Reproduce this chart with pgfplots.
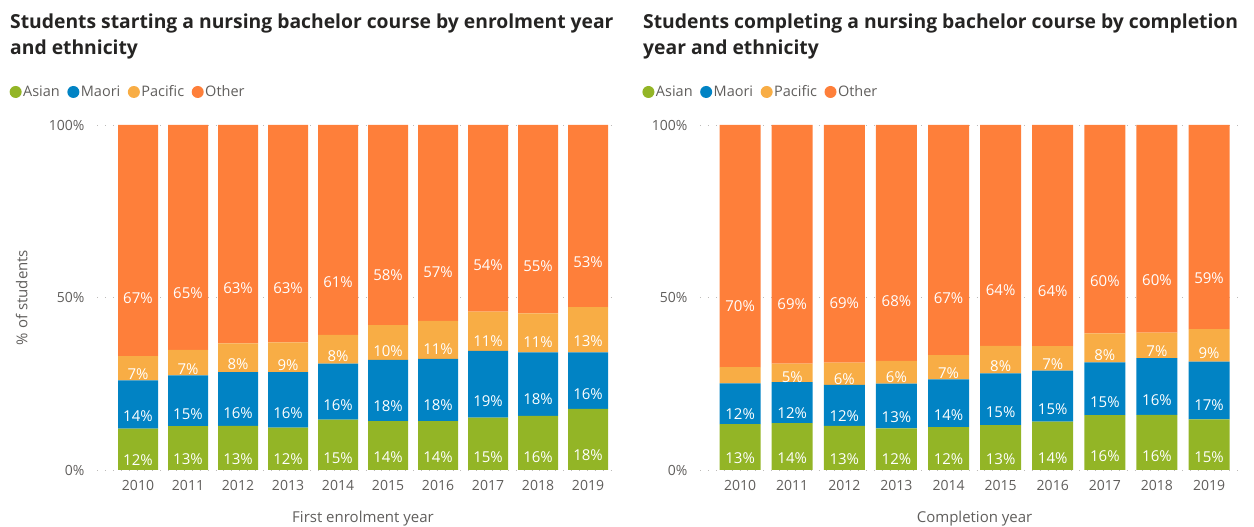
\documentclass[border=0pt]{standalone}
\usepackage{pgfplots}
\pgfplotsset{compat=1.18}
\usepackage{fontspec}
\setmainfont{Open Sans}
\definecolor{cAsian}{HTML}{93B526}
\definecolor{cMaori}{HTML}{0183C4}
\definecolor{cPacific}{HTML}{F8AD45}
\definecolor{cOther}{HTML}{FE7F3A}
\definecolor{titlec}{HTML}{252423}
\definecolor{axc}{HTML}{605E5C}
\definecolor{gridc}{HTML}{BDBBB9}

\pgfplotsset{
  pbchart/.style={
    ybar stacked, scale only axis, height=345pt,
    ymin=0, ymax=100, enlarge y limits=false,
    axis line style={draw=none}, major tick length=0pt, tick style={draw=none},
    ymajorgrids, grid style={gridc, line width=0.9pt, dash pattern=on 0.9pt off 7pt},
    ytick={0,50,100}, yticklabels={0\%,50\%,100\%},
    xtick={0,...,9}, xticklabels={2010,2011,2012,2013,2014,2015,2016,2017,2018,2019},
    ticklabel style={font=\fontsize{14}{14}\selectfont, text=axc},
    yticklabel style={xshift=-9pt},
    xticklabel style={yshift=-7pt},
    label style={font=\fontsize{15}{15}\selectfont, text=axc},
    point meta=explicit,
    /pgf/number format/assume math mode=true,
    nodes near coords={\ifdim\labshift pt<1pt\relax\else\pgfmathprintnumber[fixed,precision=0]{\pgfplotspointmeta}\%\fi},
    every node near coord/.append style={
      /pgfplots/calclab/.code={\pgfkeys{/pgf/fpu=true,/pgf/fpu/output format=fixed}\pgfmathsetmacro\labshift{\pgfplotspointmeta*0.8625}\pgfkeys{/pgf/fpu=false}},
      /pgfplots/calclab, anchor=center, yshift=-\labshift pt,
      font=\fontsize{15}{15}\selectfont, text=white},
    legend columns=4,
    legend style={draw=none, fill=none, font=\fontsize{14.5}{14.5}\selectfont, text=axc,
      inner sep=0pt, anchor=west, nodes={inner sep=1.5pt},
      /tikz/every even column/.append style={column sep=6pt}},
    legend image code/.code={\fill[##1, draw=none] (3pt,0pt) circle (6pt);},
  }
}

\begin{document}
\begin{tikzpicture}
\useasboundingbox (0,0) rectangle (1254pt,527pt);
\node[anchor=base west, align=left, font=\fontsize{19.3}{26}\bfseries\selectfont, text=titlec, inner sep=0pt]
  at (10pt,472pt) {Students starting a nursing bachelor course by enrolment year\\and ethnicity};
\node[anchor=base west, align=left, font=\fontsize{19.3}{26}\bfseries\selectfont, text=titlec, inner sep=0pt]
  at (643pt,472pt) {Students completing a nursing bachelor course by completion\\year and ethnicity};

\begin{axis}[pbchart, at={(97pt,57pt)}, anchor=south west, width=515pt,
  xmin=-0.82, xmax=9.48, bar width=40pt,
  xlabel={First enrolment year},
  xlabel style={at={(axis cs:4.5,0)}, anchor=center, yshift=-49pt},
  ylabel={\% of students},
  ylabel style={at={(axis description cs:-0.146,0.5)}, anchor=center},
  legend style={at={(axis description cs:-0.170,1.0957)}}]
\addplot[fill=cAsian, draw=none] coordinates {(0,12)[12] (1,12.7)[13] (2,12.8)[13] (3,12.3)[12] (4,14.6)[15] (5,14.2)[14] (6,14.2)[14] (7,15.2)[15] (8,15.7)[16] (9,17.7)[18]};
\addplot[fill=cMaori, draw=none] coordinates {(0,14)[14] (1,14.7)[15] (2,15.6)[16] (3,16.1)[16] (4,16.2)[16] (5,17.7)[18] (6,18)[18] (7,19.3)[19] (8,18.4)[18] (9,16.4)[16]};
\addplot[fill=cPacific, draw=none] coordinates {(0,7)[7] (1,7.4)[7] (2,8.3)[8] (3,8.6)[9] (4,8.4)[8] (5,10.1)[10] (6,11)[11] (7,11.4)[11] (8,11.3)[11] (9,13.1)[13]};
\addplot[fill=cOther, draw=none] coordinates {(0,67)[67] (1,65.2)[65] (2,63.3)[63] (3,63)[63] (4,60.8)[61] (5,58)[58] (6,56.8)[57] (7,54.1)[54] (8,54.6)[55] (9,52.8)[53]};
\legend{Asian,Maori,Pacific,Other}
\end{axis}

\begin{axis}[pbchart, at={(700pt,57pt)}, anchor=south west, width=545pt,
  xmin=-0.77, xmax=9.69, bar width=41pt,
  xlabel={Completion year},
  xlabel style={at={(axis cs:4.5,0)}, anchor=center, yshift=-49pt},
  legend style={at={(axis description cs:-0.106,1.0957)}}]
\addplot[fill=cAsian, draw=none] coordinates {(0,13.3)[13] (1,13.6)[14] (2,12.8)[13] (3,12.1)[12] (4,12.4)[12] (5,13)[13] (6,14)[14] (7,15.9)[16] (8,16)[16] (9,14.7)[15]};
\addplot[fill=cMaori, draw=none] coordinates {(0,11.8)[12] (1,11.9)[12] (2,11.9)[12] (3,12.9)[13] (4,13.9)[14] (5,15)[15] (6,14.8)[15] (7,15.3)[15] (8,16.4)[16] (9,16.7)[17]};
\addplot[fill=cPacific, draw=none] coordinates {(0,4.7)[0] (1,5.3)[5] (2,6.4)[6] (3,6.6)[6] (4,7)[7] (5,8)[8] (6,7.1)[7] (7,8.4)[8] (8,7.4)[7] (9,9.4)[9]};
\addplot[fill=cOther, draw=none] coordinates {(0,70.2)[70] (1,69.2)[69] (2,68.9)[69] (3,68.4)[68] (4,66.7)[67] (5,64)[64] (6,64.1)[64] (7,60.4)[60] (8,60.2)[60] (9,59.2)[59]};
\legend{Asian,Maori,Pacific,Other}
\end{axis}
\end{tikzpicture}
\end{document}
